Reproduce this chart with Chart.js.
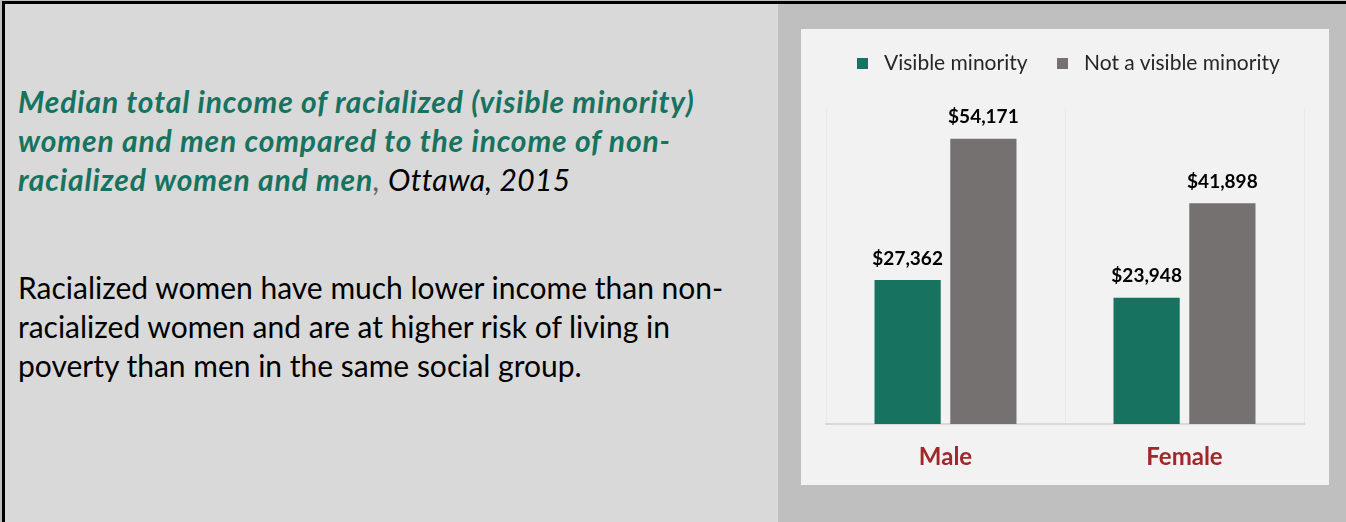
<!DOCTYPE html>
<html>
<head>
<meta charset="utf-8">
<script src="https://cdn.jsdelivr.net/npm/chart.js@4"></script>
<style>
  html, body { margin: 0; padding: 0; }
  body { width: 1346px; height: 522px; position: relative; overflow: hidden; background: #bfbfbf; font-family: Lato, "Open Sans", sans-serif; }
  .frame { position: absolute; left: 2px; top: 1px; right: -4px; bottom: -4px; border-top: 3px solid #000; border-left: 3px solid #000; }
  .left { position: absolute; left: 5px; top: 4px; width: 773px; height: 518px; background: #d9d9d9; }
  .title { position: absolute; left: 18px; top: 82px; width: 760px; white-space: nowrap; font-size: 30px; letter-spacing: 0.85px; line-height: 39px; font-weight: bold; font-style: italic; color: #17735f; }
  .title .plain { font-weight: normal; color: #000; letter-spacing: 0.3px; }
  .title .comma { font-weight: normal; color: #666; }
  .body { position: absolute; left: 18px; top: 268px; width: 760px; white-space: nowrap; font-size: 30px; line-height: 39px; color: #000; }
  .panel { position: absolute; left: 801px; top: 29px; width: 528px; height: 456px; background: #f2f2f2; }
  .legend { position: absolute; left: 0; top: 20px; width: 528px; font-size: 21px; color: #262626; }
  .legend span.item { position: absolute; top: 0; white-space: nowrap; }
  .legend i { display: inline-block; width: 11px; height: 11px; vertical-align: 1px; margin-right: 16px; }
  #wrap { position: absolute; left: 0; top: 0; width: 528px; height: 456px; }
</style>
</head>
<body>
<div class="frame"></div>
<div class="left">
</div>
<div class="title">Median total income of racialized (visible minority)<br>women and men compared to the income of non-<br>racialized women and men<span class="comma">,</span><span class="plain"> Ottawa, 2015</span></div>
<div class="body">Racialized women have much lower income than non-<br>racialized women and are at higher risk of living in<br>poverty than men in the same social group.</div>
<div class="panel">
  <div id="wrap"><canvas id="chart"></canvas></div>
  <div class="legend" id="legend"></div>
</div>
<script>
// chart data
const categories = ['Male', 'Female'];
const seriesNames = ['Visible minority', 'Not a visible minority'];
const visibleMinority = [27362, 23948];
const notVisibleMinority = [54171, 41898];
const seriesColors = ['#177360', '#757171'];

// value labels above the bars
const barLabels = {
  id: 'barLabels',
  afterDatasetsDraw(chart) {
    const ctx = chart.ctx;
    ctx.save();
    ctx.font = 'bold 19px Lato, "Open Sans", sans-serif';
    ctx.fillStyle = '#000';
    ctx.textAlign = 'center';
    ctx.textBaseline = 'bottom';
    chart.data.datasets.forEach((ds, i) => {
      chart.getDatasetMeta(i).data.forEach((bar, j) => {
        ctx.fillText('$' + ds.data[j].toLocaleString('en-US'), bar.x, bar.y - 12);
      });
    });
    ctx.restore();
  }
};

new Chart(document.getElementById('chart'), {
  type: 'bar',
  data: {
    labels: categories,
    datasets: [
      { label: seriesNames[0], data: visibleMinority, backgroundColor: seriesColors[0] },
      { label: seriesNames[1], data: notVisibleMinority, backgroundColor: seriesColors[1] }
    ]
  },
  options: {
    responsive: true,
    maintainAspectRatio: false,
    animation: false,
    categoryPercentage: 0.634,
    barPercentage: 0.874,
    layout: { padding: { left: 25, right: 25, top: 79, bottom: -5 } },
    plugins: { legend: { display: false }, tooltip: { enabled: false } },
    scales: {
      x: {
        grid: { display: true, color: '#eaeaea', drawTicks: false },
        border: { display: true, color: '#d9d9d9', width: 2 },
        ticks: { color: '#a0282b', font: { family: 'Lato, "Open Sans", sans-serif', size: 24, weight: 'bold', lineHeight: 1 }, padding: 21 }
      },
      y: { display: false, min: 0, max: 60000 }
    }
  },
  plugins: [barLabels]
});

// html legend
const legend = document.getElementById('legend');
const legendX = [56, 256];
seriesNames.forEach((name, i) => {
  const s = document.createElement('span');
  s.className = 'item';
  s.style.left = legendX[i] + 'px';
  s.innerHTML = '<i style="background:' + seriesColors[i] + '"></i>' + name;
  legend.appendChild(s);
});
</script>
</body>
</html>
